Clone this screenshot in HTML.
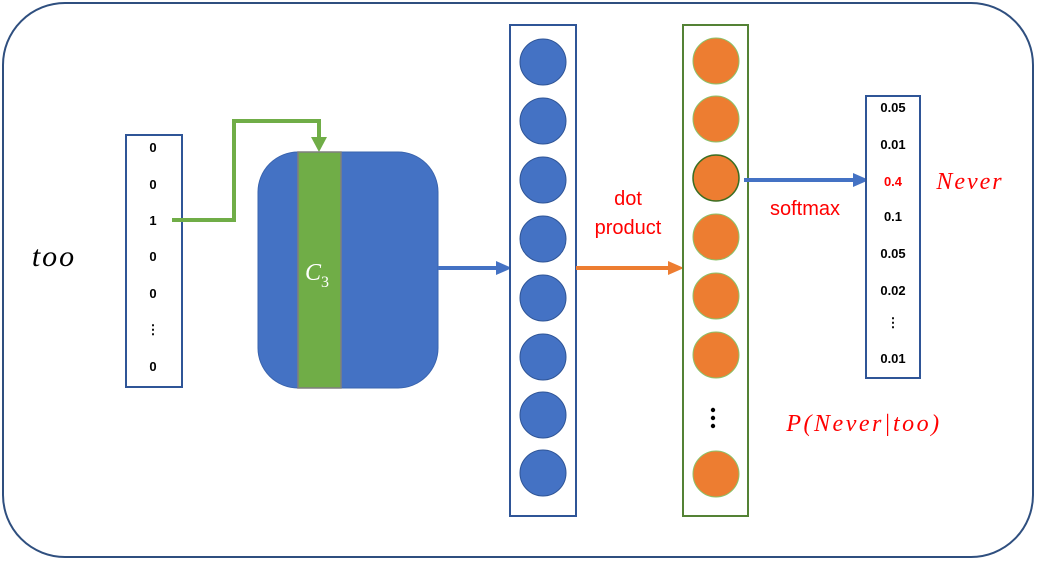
<!DOCTYPE html>
<html><head><style>body{margin:0;background:#fff}svg{display:block}</style></head><body>
<svg width="1037" height="561" xmlns="http://www.w3.org/2000/svg" font-family="Liberation Sans, sans-serif">
<rect x="3" y="3" width="1030" height="554" rx="62" fill="#fff" stroke="#2F4F7F" stroke-width="2"/>
<text x="54" y="266" font-family="Liberation Serif, serif" font-style="italic" font-size="30" letter-spacing="2" text-anchor="middle">too</text>
<rect x="126" y="135" width="56" height="252" fill="#fff" stroke="#2F5597" stroke-width="2"/>
<g font-size="13" font-weight="bold" text-anchor="middle">
<text x="153" y="152">0</text><text x="153" y="189">0</text><text x="153" y="225">1</text><text x="153" y="261">0</text><text x="153" y="298">0</text><text x="153" y="334">⋮</text><text x="153" y="371">0</text>
</g>
<path d="M172,220 H234 V121 H319 V140" fill="none" stroke="#70AD47" stroke-width="4"/>
<path d="M311,137 L327,137 L319,152z" fill="#70AD47"/>
<rect x="258" y="152" width="180" height="236" rx="40" fill="#4472C4" stroke="#3A64AE"/>
<rect x="298" y="152" width="43" height="236" fill="#70AD47" stroke="#7f7f7f" stroke-width="1.5"/>
<text x="313" y="280" font-family="Liberation Serif, serif" font-style="italic" font-size="24" fill="#fff" text-anchor="middle">C</text>
<text x="321" y="287" font-family="Liberation Serif, serif" font-size="16" fill="#fff">3</text>
<line x1="438" y1="268" x2="498" y2="268" stroke="#4472C4" stroke-width="4"/>
<path d="M496,261 L512,268 L496,275z" fill="#4472C4"/>
<rect x="510" y="25" width="66" height="491" fill="#fff" stroke="#2F5597" stroke-width="2"/>
<g fill="#4472C4" stroke="#2F5597" stroke-width="1">
<circle cx="543" cy="62" r="23"/><circle cx="543" cy="121" r="23"/><circle cx="543" cy="180" r="23"/><circle cx="543" cy="239" r="23"/><circle cx="543" cy="298" r="23"/><circle cx="543" cy="357" r="23"/><circle cx="543" cy="415" r="23"/><circle cx="543" cy="473" r="23"/>
</g>
<line x1="576" y1="268" x2="670" y2="268" stroke="#ED7D31" stroke-width="4"/>
<path d="M668,261 L684,268 L668,275z" fill="#ED7D31"/>
<text x="628" y="205" font-size="20" fill="#f00" text-anchor="middle">dot</text>
<text x="628" y="234" font-size="20" fill="#f00" text-anchor="middle">product</text>
<rect x="683" y="25" width="65" height="491" fill="#fff" stroke="#548235" stroke-width="2"/>
<g fill="#ED7D31" stroke="#8CC26A" stroke-width="1">
<circle cx="716" cy="61" r="23"/><circle cx="716" cy="119" r="23"/><circle cx="716" cy="178" r="23" stroke="#3B6E22" stroke-width="1.5"/><circle cx="716" cy="237" r="23"/><circle cx="716" cy="296" r="23"/><circle cx="716" cy="355" r="23"/><circle cx="716" cy="474" r="23"/>
</g>
<g fill="#000"><circle cx="713" cy="410" r="2.2"/><circle cx="713" cy="418" r="2.2"/><circle cx="713" cy="426" r="2.2"/></g>
<line x1="744" y1="180" x2="855" y2="180" stroke="#4472C4" stroke-width="4"/>
<path d="M853,173 L869,180 L853,187z" fill="#4472C4"/>
<text x="805" y="215" font-size="20" fill="#f00" text-anchor="middle">softmax</text>
<rect x="866" y="96" width="54" height="282" fill="#fff" stroke="#2F5597" stroke-width="2"/>
<g font-size="13" font-weight="bold" text-anchor="middle">
<text x="893" y="112">0.05</text><text x="893" y="149">0.01</text><text x="893" y="186" fill="#f00">0.4</text><text x="893" y="221">0.1</text><text x="893" y="258">0.05</text><text x="893" y="295">0.02</text><text x="893" y="327">⋮</text><text x="893" y="363">0.01</text>
</g>
<text x="970" y="189" font-family="Liberation Serif, serif" font-style="italic" font-size="24" letter-spacing="2" fill="#f00" text-anchor="middle">Never</text>
<text x="864" y="431" font-family="Liberation Serif, serif" font-style="italic" font-size="24" letter-spacing="2.5" fill="#f00" text-anchor="middle">P(Never|too)</text>
</svg>
</body></html>
